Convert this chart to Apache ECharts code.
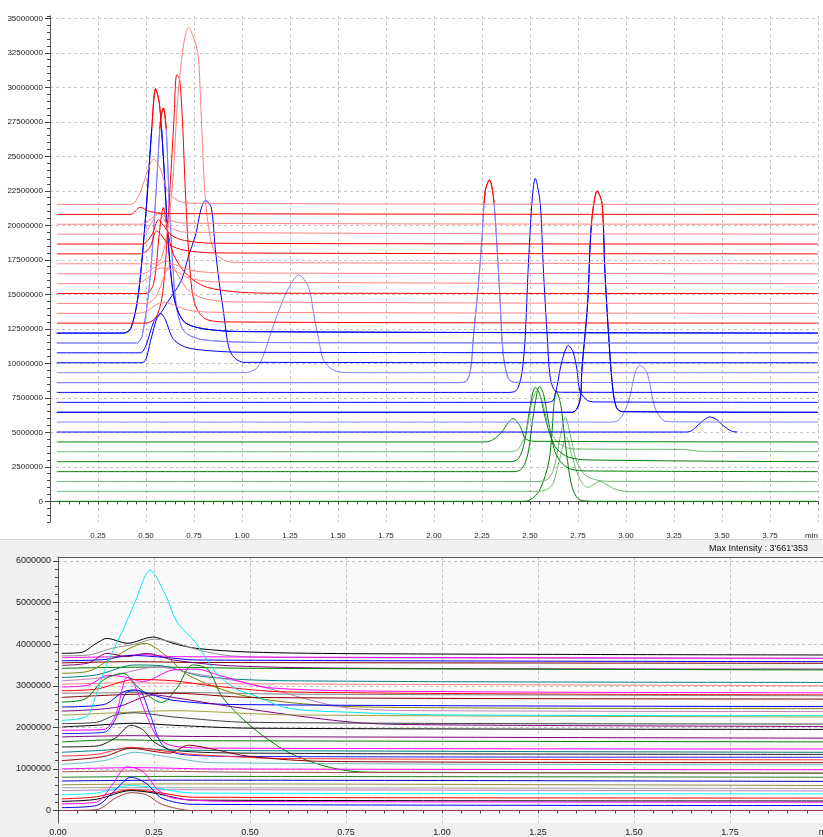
<!DOCTYPE html>
<html><head><meta charset="utf-8">
<script src="https://cdn.jsdelivr.net/npm/echarts@6/dist/echarts.min.js"></script>
<style>html,body{margin:0;padding:0;background:#fff}#c{width:823px;height:837px}</style>
</head><body><div id="c"></div><script>
// ---------------- TOP CHART (values in millions, x in min) ----------------
const topXTicks = [0.25,0.5,0.75,1.0,1.25,1.5,1.75,2.0,2.25,2.5,2.75,3.0,3.25,3.5,3.75];
// green traces
const g0 = [[0.035,0],[2.45,0],[2.5,0.1],[2.55,0.8],[2.6,3.0],[2.637,8.0],[2.66,7.0],[2.69,3.5],[2.72,1.0],[2.76,0.1],[2.85,0],[4.0,0]];
const g1 = [[0.035,0.72],[2.5,0.72],[2.58,0.8],[2.62,1.3],[2.65,2.8],[2.69,4.64],[2.72,3.2],[2.76,1.6],[2.8,1.0],[2.84,1.3],[2.865,1.45],[2.9,1.2],[2.95,0.85],[3.02,0.7],[4.0,0.7]];
const g2 = [[0.035,1.43],[2.5,1.43],[2.58,1.5],[2.62,2.2],[2.655,4.5],[2.684,6.1],[2.71,4.8],[2.74,3.0],[2.78,2.0],[2.83,1.6],[2.9,1.45],[4.0,1.43]];
const g3 = [[0.035,2.15],[2.42,2.15],[2.46,2.4],[2.49,3.5],[2.52,6.5],[2.55,8.33],[2.57,7.8],[2.6,5.5],[2.63,3.6],[2.67,2.7],[2.72,2.3],[2.8,2.2],[4.0,2.15]];
const g4 = [[0.035,2.87],[2.4,2.87],[2.44,3.1],[2.47,4.2],[2.5,6.8],[2.527,8.26],[2.55,7.8],[2.58,6.0],[2.61,4.6],[2.64,3.8],[2.7,3.2],[2.8,3.0],[4.0,2.87]];
const g5 = [[0.035,3.59],[2.4,3.59],[2.44,3.8],[2.48,5.0],[2.51,7.2],[2.535,8.0],[2.56,7.4],[2.59,5.8],[2.62,4.7],[2.66,4.1],[2.72,3.8],[3.3,3.75],[3.4,3.62],[4.0,3.6]];
const g6 = [[0.035,4.3],[2.25,4.3],[2.29,4.35],[2.345,4.9],[2.413,6.0],[2.45,5.4],[2.475,4.55],[2.52,4.35],[4.0,4.3]];
// blue traces
const b7 = [[0.035,5.02],[3.3,5.02],[3.34,5.1],[3.385,5.65],[3.437,6.11],[3.47,5.95],[3.505,5.5],[3.55,5.08],[3.58,5.02]];
const b8 = [[0.035,5.74],[2.9,5.74],[2.95,5.78],[3.01,7.1],[3.047,9.3],[3.073,9.86],[3.11,9.3],[3.15,6.8],[3.19,5.9],[3.23,5.76],[4.0,5.74]];
const b9 = [[0.035,6.45],[2.72,6.45],[2.76,7.3],[2.77,9.5],[2.8,14.3],[2.82,20.1],[2.85,22.5],[2.875,21.6],[2.89,16.7],[2.91,11.9],[2.93,8.3],[2.95,6.8],[2.98,6.5],[4.0,6.45]];
const b10 = [[0.035,7.17],[2.58,7.17],[2.62,7.3],[2.64,8.3],[2.667,10.2],[2.7,11.3],[2.725,10.8],[2.745,9.5],[2.76,8.0],[2.8,7.3],[2.85,7.2],[4.0,7.17]];
const b11 = [[0.035,7.89],[2.38,7.89],[2.42,7.95],[2.44,8.3],[2.46,9.5],[2.475,11.9],[2.49,16.7],[2.51,21.6],[2.527,23.4],[2.553,21.6],[2.57,16.7],[2.59,11.9],[2.605,9.0],[2.63,8.0],[2.67,7.9],[4.0,7.89]];
const b12 = [[0.035,8.6],[2.12,8.6],[2.163,8.65],[2.19,9.5],[2.205,11.9],[2.23,15.5],[2.25,19.1],[2.267,22.5],[2.289,23.3],[2.31,22.0],[2.33,18.0],[2.345,14.3],[2.36,10.7],[2.387,8.9],[2.42,8.62],[4.0,8.6]];
const b13 = [[0.035,9.32],[0.98,9.32],[1.03,9.35],[1.08,9.7],[1.115,10.7],[1.15,12.2],[1.186,13.6],[1.237,15.3],[1.295,16.4],[1.347,15.5],[1.373,13.6],[1.4,11.7],[1.425,10.2],[1.477,9.5],[1.56,9.32],[4.0,9.32]];
const b14 = [[0.035,10.04],[0.45,10.04],[0.49,10.1],[0.525,11.7],[0.555,13.2],[0.58,13.7],[0.62,14.6],[0.655,15.3],[0.69,16.2],[0.72,17.7],[0.76,19.4],[0.785,21.1],[0.81,21.8],[0.84,21.3],[0.86,18.4],[0.88,16.0],[0.905,13.6],[0.93,11.2],[0.96,10.4],[1.01,10.07],[4.0,10.04]];
const b15 = [[0.035,10.76],[0.47,10.76],[0.5,11.3],[0.54,13.0],[0.577,13.6],[0.6,13.2],[0.64,11.8],[0.7,11.2],[0.8,10.95],[1.0,10.8],[4.0,10.76]];
const b16 = [[0.035,11.47],[0.45,11.47],[0.48,12.0],[0.52,16.0],[0.555,23.0],[0.575,27.5],[0.59,28.5],[0.605,27.0],[0.62,22.0],[0.64,17.0],[0.66,14.0],[0.7,12.3],[0.8,11.7],[1.2,11.5],[4.0,11.47]];
const b17 = [[0.035,12.19],[0.38,12.19],[0.42,12.5],[0.46,15.0],[0.5,21.0],[0.53,27.0],[0.55,29.9],[0.57,28.8],[0.59,25.0],[0.62,18.0],[0.65,14.5],[0.7,13.0],[0.8,12.5],[1.0,12.3],[4.0,12.19]];
// red traces
const r18 = [[0.035,12.91],[0.5,12.91],[0.55,13.3],[0.58,14.5],[0.6,17.0],[0.62,21.5],[0.645,27.5],[0.66,30.9],[0.675,30.6],[0.69,27.5],[0.705,22.5],[0.725,17.5],[0.75,14.5],[0.8,13.3],[0.9,13.0],[4.0,12.91]];
const r19 = [[0.035,13.62],[0.45,13.62],[0.5,13.75],[0.56,14.3],[0.6,14.4],[0.65,14.2],[0.72,13.85],[0.85,13.7],[4.0,13.62]];
const r20 = [[0.035,14.34],[0.5,14.34],[0.55,14.8],[0.6,16.5],[0.63,17.2],[0.67,16.3],[0.72,15.3],[0.8,14.7],[0.95,14.45],[4.0,14.34]];
const r21 = [[0.035,15.06],[0.5,15.06],[0.54,15.8],[0.57,19.5],[0.59,21.3],[0.61,19.8],[0.64,18.0],[0.69,16.8],[0.75,16.0],[0.82,15.5],[0.95,15.2],[1.13,15.08],[4.0,15.06]];
const r22 = [[0.035,15.77],[0.45,15.77],[0.5,16.1],[0.577,16.9],[0.65,16.7],[0.72,16.2],[0.85,15.9],[4.0,15.77]];
const r23 = [[0.035,16.49],[0.48,16.49],[0.55,17.0],[0.6,17.4],[0.66,17.1],[0.75,16.7],[0.9,16.55],[4.0,16.49]];
const r24 = [[0.035,17.21],[0.55,17.21],[0.58,17.6],[0.61,19.5],[0.64,23.3],[0.655,26.9],[0.67,30.0],[0.69,32.5],[0.707,33.9],[0.723,34.35],[0.74,33.9],[0.77,32.5],[0.785,28.8],[0.8,24.0],[0.81,21.8],[0.83,19.5],[0.86,18.0],[0.92,17.4],[1.0,17.3],[4.0,17.21]];
const r25 = [[0.035,17.93],[0.47,17.93],[0.52,18.4],[0.555,19.6],[0.58,19.3],[0.62,18.6],[0.7,18.2],[0.85,18.0],[4.0,17.93]];
const r26 = [[0.035,18.64],[0.48,18.64],[0.53,19.3],[0.565,20.4],[0.59,20.0],[0.63,19.3],[0.7,18.9],[0.85,18.7],[4.0,18.64]];
const r27 = [[0.035,19.36],[0.48,19.36],[0.53,20.2],[0.56,20.9],[0.585,20.6],[0.62,19.9],[0.7,19.5],[4.0,19.36]];
const r28 = [[0.035,20.08],[0.48,20.08],[0.53,20.5],[0.57,20.9],[0.62,20.4],[0.7,20.15],[4.0,20.08]];
const r29 = [[0.035,20.79],[0.42,20.79],[0.47,21.3],[0.52,21.0],[0.6,20.85],[4.0,20.79]];
const r30 = [[0.035,21.51],[0.4,21.51],[0.437,21.6],[0.473,22.5],[0.51,24.0],[0.54,24.8],[0.577,24.0],[0.613,22.5],[0.665,21.8],[0.733,21.6],[4.0,21.51]];

// ---------------- BOTTOM CHART (values in millions) ----------------
const botXTicks = [0,0.25,0.5,0.75,1.0,1.25,1.5,1.75];
const s01 = [[0.01,3.78],[0.06,3.8],[0.1,4.02],[0.128,4.14],[0.18,4.02],[0.247,4.17],[0.3,4.02],[0.36,3.9],[0.5,3.81],[0.8,3.77],[2.0,3.74]];
const s02 = [[0.01,3.72],[0.08,3.74],[0.14,3.9],[0.2,4.0],[0.25,4.12],[0.3,4.05],[0.37,3.85],[0.45,3.72],[0.6,3.68],[2.0,3.66]];
const s03 = [[0.01,3.68],[0.15,3.7],[0.22,3.75],[0.3,3.7],[2.0,3.66]];
const s04 = [[0.01,3.6],[0.12,3.63],[0.19,3.73],[0.28,3.68],[0.36,3.62],[2.0,3.58]];
const s05 = [[0.01,3.55],[0.2,3.58],[0.35,3.56],[2.0,3.54]];
const s06 = [[0.01,3.49],[0.08,3.55],[0.128,3.78],[0.18,3.7],[0.23,3.78],[0.3,3.62],[0.45,3.48],[0.8,3.42],[2.0,3.4]];
const s07 = [[0.01,3.42],[0.25,3.45],[0.5,3.42],[2.0,3.38]];
const s08 = [[0.01,3.3],[0.08,3.35],[0.14,3.66],[0.227,4.02],[0.28,3.73],[0.34,3.25],[0.48,2.77],[0.69,2.53],[1.0,2.47],[2.0,2.45]];
const s09 = [[0.01,3.2],[0.1,3.26],[0.2,3.5],[0.27,3.48],[0.38,3.22],[0.6,3.12],[2.0,3.08]];
const s10 = [[0.01,3.12],[0.12,3.2],[0.26,3.45],[0.35,3.3],[0.5,3.05],[0.77,2.45],[1.0,2.4],[2.0,2.38]];
const s11 = [[0.01,3.04],[0.2,3.07],[0.4,3.05],[2.0,3.0]];
const s12 = [[0.01,2.97],[0.08,3.02],[0.13,3.25],[0.18,3.2],[0.22,3.1],[0.3,3.38],[0.36,3.4],[0.42,3.25],[0.55,2.95],[1.0,2.86],[2.0,2.83]];
const s13 = [[0.01,2.88],[0.1,2.92],[0.2,3.15],[0.3,3.12],[0.4,3.0],[0.6,2.85],[2.0,2.78]];
const s14 = [[0.01,2.82],[0.3,2.84],[0.6,2.8],[2.0,2.76]];
const s15 = [[0.01,2.61],[0.07,2.68],[0.12,3.15],[0.17,3.3],[0.21,2.95],[0.27,2.6],[0.31,2.95],[0.35,3.5],[0.39,3.4],[0.43,2.7],[0.51,1.97],[0.6,1.4],[0.69,1.08],[0.77,0.94],[0.85,0.92],[2.0,0.9]];
const s16 = [[0.01,2.72],[0.15,2.78],[0.3,2.82],[0.5,2.72],[2.0,2.68]];
const s17 = [[0.01,2.49],[0.12,2.55],[0.17,2.85],[0.2,2.9],[0.24,2.8],[0.3,2.65],[0.45,2.55],[2.0,2.5]];
const s18 = [[0.01,2.39],[0.15,2.48],[0.25,2.78],[0.3,2.72],[0.45,2.5],[0.77,2.12],[1.0,2.06],[2.0,2.02]];
const s19 = [[0.01,2.29],[0.15,2.35],[0.3,2.4],[0.6,2.3],[2.0,2.25]];
const s20 = [[0.01,2.17],[0.05,2.2],[0.078,2.29],[0.096,2.7],[0.13,3.57],[0.167,4.3],[0.2,5.0],[0.24,5.78],[0.28,5.18],[0.31,4.53],[0.357,4.05],[0.41,3.33],[0.46,2.94],[0.51,2.77],[0.6,2.46],[0.77,2.36],[1.0,2.3],[2.0,2.28]];
const s21 = [[0.01,2.09],[0.1,2.12],[0.15,2.3],[0.2,2.35],[0.3,2.25],[0.5,2.12],[2.0,2.08]];
const s22 = [[0.01,2.01],[0.08,2.04],[0.2,2.1],[0.3,2.05],[0.5,1.98],[2.0,1.95]];
const s23 = [[0.01,1.93],[0.12,1.95],[0.15,2.3],[0.18,3.2],[0.2,3.0],[0.23,2.3],[0.26,1.75],[0.3,1.55],[0.4,1.5],[2.0,1.48]];
const s24 = [[0.01,1.85],[0.12,1.88],[0.15,2.2],[0.18,2.85],[0.21,2.88],[0.24,2.3],[0.27,1.6],[0.32,1.35],[0.5,1.3],[2.0,1.28]];
const s25 = [[0.01,1.77],[0.2,1.8],[0.35,1.78],[2.0,1.74]];
const s26 = [[0.01,1.65],[0.15,1.7],[0.3,1.68],[2.0,1.65]];
const s27 = [[0.01,1.53],[0.1,1.55],[0.15,1.75],[0.19,2.05],[0.22,1.95],[0.25,1.65],[0.3,1.45],[0.5,1.38],[2.0,1.35]];
const s28 = [[0.01,1.4],[0.12,1.45],[0.2,1.5],[0.3,1.45],[2.0,1.4]];
const s29 = [[0.01,1.31],[0.1,1.35],[0.19,1.52],[0.26,1.45],[0.35,1.35],[0.6,1.25],[2.0,1.22]];
const s30 = [[0.01,1.2],[0.12,1.3],[0.19,1.5],[0.25,1.42],[0.29,1.38],[0.34,1.57],[0.4,1.48],[0.5,1.3],[0.7,1.18],[2.0,1.15]];
const s31 = [[0.01,1.11],[0.12,1.2],[0.2,1.4],[0.28,1.3],[0.4,1.15],[2.0,1.1]];
const s32 = [[0.01,1.0],[0.2,1.03],[0.4,1.0],[2.0,0.98]];
const s33 = [[0.01,0.93],[0.2,0.95],[0.5,0.92],[2.0,0.9]];
const s34 = [[0.01,0.8],[0.3,0.82],[2.0,0.8]];
const s35 = [[0.01,0.71],[0.3,0.73],[2.0,0.7]];
const s36 = [[0.01,0.62],[0.3,0.64],[2.0,0.6]];
const s37 = [[0.01,0.55],[2.0,0.53]];
const s38 = [[0.01,0.48],[0.2,0.5],[2.0,0.47]];
const s39 = [[0.01,0.38],[0.1,0.42],[0.19,0.6],[0.25,0.55],[0.35,0.42],[2.0,0.4]];
const s40 = [[0.01,0.28],[0.1,0.33],[0.19,0.5],[0.25,0.45],[0.35,0.32],[2.0,0.3]];
const s41 = [[0.01,0.22],[0.1,0.27],[0.19,0.48],[0.25,0.42],[0.35,0.25],[2.0,0.23]];
const s42 = [[0.01,0.16],[0.1,0.2],[0.14,0.6],[0.18,1.05],[0.22,0.95],[0.26,0.5],[0.3,0.3],[0.45,0.22],[2.0,0.2]];
const s43 = [[0.01,0.07],[0.1,0.12],[0.15,0.5],[0.19,0.8],[0.23,0.65],[0.27,0.3],[0.35,0.15],[2.0,0.12]];
const s44 = [[0.01,0.0],[0.1,0.02],[0.15,0.3],[0.19,0.43],[0.23,0.38],[0.27,0.15],[0.35,0.0],[2.0,0.0]];

// ---------------- styling / assembly ----------------
const M = 1e6;
const RED = '#ff0000', LRED = '#ff8080', BLUE = '#0000ff', LBLUE = '#8080ff', GRN = '#008000', LGRN = '#70b870';
const topTraces = [
  [g0,GRN],[g1,LGRN],[g2,LGRN],[g3,GRN],[g4,GRN],[g5,LGRN],[g6,GRN],
  [b7,BLUE],[b8,LBLUE],[b9,BLUE,19.9],[b10,BLUE],[b11,BLUE],[b12,LBLUE,21.6],[b13,LBLUE],[b14,BLUE],[b15,BLUE],[b16,LBLUE,27.0],[b17,BLUE,27.0],
  [r18,RED],[r19,LRED],[r20,LRED],[r21,RED],[r22,LRED],[r23,LRED],[r24,LRED],[r25,RED],[r26,RED],[r27,LRED],[r28,LRED],[r29,RED],[r30,LRED]
];
const botTraces = [
  [s01,'#000000'],[s02,'#909090'],[s03,'#ff00ff'],[s04,'#0000ff'],[s05,'#800000'],[s06,'#800080'],[s07,'#008000'],[s08,'#808000'],
  [s09,'#008080'],[s10,'#c080c0'],[s11,'#ff8080'],[s12,'#ff00ff'],[s13,'#ff0000'],[s14,'#808080'],[s15,'#008000'],[s16,'#800000'],
  [s17,'#0000ff'],[s18,'#800080'],[s19,'#a0a040'],[s20,'#00e8e8'],[s21,'#404040'],[s22,'#000000'],[s23,'#ff00ff'],[s24,'#2020ff'],
  [s25,'#800080'],[s26,'#008000'],[s27,'#202020'],[s28,'#008080'],[s29,'#ff3030'],[s30,'#900000'],[s31,'#60c0c0'],[s32,'#ff00ff'],
  [s33,'#a05050'],[s34,'#208020'],[s35,'#0000c0'],[s36,'#909040'],[s37,'#a0a0a0'],[s38,'#c080c0'],[s39,'#00ffff'],[s40,'#ff0000'],
  [s41,'#000000'],[s42,'#ff00ff'],[s43,'#0000ff'],[s44,'#a04040']
];

function toData(arr){ return arr.map(p => [p[0], p[1]*M]); }
function baseSeries(arr, color, xi, yi){
  return {type:'line', xAxisIndex:xi, yAxisIndex:yi, data:toData(arr), showSymbol:false, symbol:'none',
    smooth:0.3, lineStyle:{width:1, color:color}, itemStyle:{color:color}, silent:true, z:2};
}
const series = [];
const capped = [];
topTraces.forEach(t => {
  if (t[2] !== undefined) capped.push({idx: series.length, thr: t[2], color: t[1]});
  series.push(baseSeries(t[0], t[1], 0, 0));
});
botTraces.forEach(t => series.push(baseSeries(t[0], t[1], 3, 3)));

const gridLine = {show:true, lineStyle:{color:'#c4c4c4', type:[3,3], width:1}};
const axCol = '#555';
const tickCol = '#444';
const font = 'Liberation Sans';
const ob = {outerBoundsMode:'none', containLabel:false};

const chart = echarts.init(document.getElementById('c'), null, {renderer:'canvas'});
chart.setOption({
  animation:false,
  backgroundColor:'#ffffff',
  graphic:[
    {type:'rect', z:-100, shape:{x:0,y:540,width:823,height:297}, style:{fill:'#f0f0f0'}},
    {type:'line', z:-99, shape:{x1:0,y1:539.5,x2:823,y2:539.5}, style:{stroke:'#d4d4d4', lineWidth:1}},
    {type:'text', z:10, x:709, y:544, style:{text:"Max Intensity : 3'661'353", font:'9px "Liberation Sans"', fill:'#111'}}
  ],
  grid:[
    Object.assign({left:50, right:5, top:16, bottom:315}, ob),
    Object.assign({left:50, right:5, top:18.3, bottom:335.7}, ob),
    Object.assign({left:58, right:-3, top:557, bottom:14, show:true, backgroundColor:'#fafafa', borderWidth:0}, ob),
    Object.assign({left:58, right:-3, top:561, bottom:26.5}, ob)
  ],
  xAxis:[
    {gridIndex:0, type:'value', min:0, max:4, interval:0.25, offset:6,
      axisLine:{show:false}, axisTick:{show:true, length:3, lineStyle:{color:tickCol}},
      minorTick:{show:true, splitNumber:5, length:3, lineStyle:{color:tickCol}},
      axisLabel:{fontSize:8, color:'#222', margin:4, fontFamily:font, alignMaxLabel:'right',
        formatter:v => v===0 ? '' : (v>=4 ? 'min' : v.toFixed(2))},
      splitLine:gridLine, minorSplitLine:{show:false}},
    {gridIndex:0, type:'value', min:0, max:4, position:'top', axisLine:{show:true, lineStyle:{color:axCol}},
      axisTick:{show:false}, axisLabel:{show:false}, splitLine:{show:false}},
    {gridIndex:1, type:'value', min:0, max:4, show:false},
    {gridIndex:2, type:'value', min:0, max:2, interval:0.25,
      axisLine:{show:true, lineStyle:{color:axCol}}, axisTick:{show:true, length:3, lineStyle:{color:tickCol}},
      minorTick:{show:true, splitNumber:5, length:3, lineStyle:{color:tickCol}},
      axisLabel:{fontSize:9, color:'#222', margin:5, fontFamily:font, formatter:v => v>=2 ? 'min' : v.toFixed(2)},
      splitLine:gridLine},
    {gridIndex:2, type:'value', min:0, max:2, position:'top', axisLine:{show:true, lineStyle:{color:axCol}},
      axisTick:{show:false}, axisLabel:{show:false}, splitLine:{show:false}},
    {gridIndex:3, type:'value', min:0, max:2, show:false}
  ],
  yAxis:[
    {gridIndex:0, type:'value', min:-1.5e6, max:35.167e6, interval:0.5e6,
      axisLine:{show:true, lineStyle:{color:axCol}}, axisTick:{show:true, length:3, lineStyle:{color:tickCol}},
      axisLabel:{show:false}, splitLine:{show:false}},
    {gridIndex:0, type:'value', min:-1.5e6, max:35.167e6, position:'right',
      axisLine:{show:true, lineStyle:{color:axCol}}, axisTick:{show:false}, axisLabel:{show:false}, splitLine:{show:false}},
    {gridIndex:1, type:'value', min:0, max:35e6, interval:2.5e6,
      axisLine:{show:false}, axisTick:{show:true, length:5, lineStyle:{color:tickCol}},
      axisLabel:{fontSize:8, color:'#222', margin:7, fontFamily:font, formatter:v => String(Math.round(v))},
      splitLine:gridLine},
    {gridIndex:2, type:'value', min:-0.3e6, max:6.096e6,
      axisLine:{show:true, lineStyle:{color:axCol}}, axisTick:{show:false}, axisLabel:{show:false}, splitLine:{show:false}},
    {gridIndex:3, type:'value', min:0, max:6e6, interval:1e6,
      axisLine:{show:false}, axisTick:{show:true, length:5, lineStyle:{color:tickCol}},
      minorTick:{show:true, splitNumber:5, length:3, lineStyle:{color:tickCol}},
      axisLabel:{fontSize:9, color:'#222', margin:7, fontFamily:font, formatter:v => String(Math.round(v))},
      splitLine:gridLine}
  ],
  series: series
});
// peak tops drawn red above a level: global-coordinate gradient on the line colour
const upd = series.map(() => ({}));
capped.forEach(c => {
  const py = chart.convertToPixel({xAxisIndex:0, yAxisIndex:0}, [0, c.thr*M])[1];
  upd[c.idx] = {lineStyle:{color: new echarts.graphic.LinearGradient(0, py-0.5, 0, py+0.5,
    [{offset:0, color:RED},{offset:1, color:c.color}], true)}};
});
chart.setOption({series: upd});
</script></body></html>
